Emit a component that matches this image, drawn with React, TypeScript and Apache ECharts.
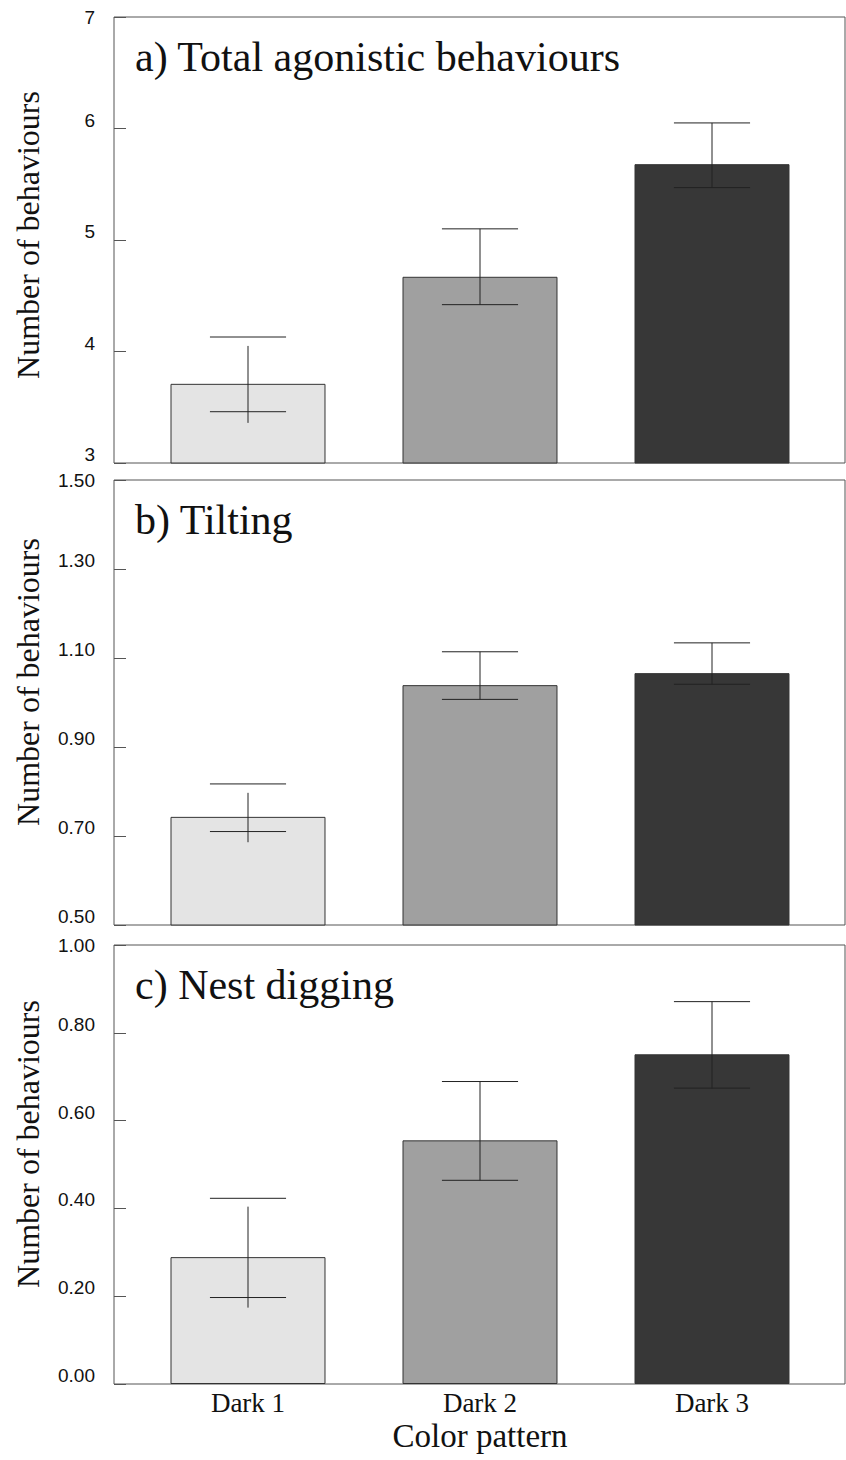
import React, { useEffect, useRef } from "react";
import * as echarts from "echarts";

const categories = ["Dark 1", "Dark 2", "Dark 3"];
const barColors = ["#e4e4e4", "#a0a0a0", "#373737"];

// Panel a) Total agonistic behaviours
const aMeans = [3.71, 4.67, 5.68];
const aCapHigh = [4.13, 5.1, 6.05];
const aCapLow = [3.46, 4.42, 5.47];
const aStemTop = [4.05, 5.1, 6.05];
const aStemBottom = [3.36, 4.42, 5.47];

// Panel b) Tilting
const bMeans = [0.743, 1.039, 1.066];
const bCapHigh = [0.817, 1.114, 1.134];
const bCapLow = [0.71, 1.007, 1.041];
const bStemTop = [0.797, 1.114, 1.134];
const bStemBottom = [0.686, 1.007, 1.041];

// Panel c) Nest digging
const cMeans = [0.289, 0.555, 0.751];
const cCapHigh = [0.423, 0.689, 0.871];
const cCapLow = [0.197, 0.464, 0.674];
const cStemTop = [0.404, 0.689, 0.871];
const cStemBottom = [0.174, 0.464, 0.674];

const panelTitles = ["a) Total agonistic behaviours", "b) Tilting", "c) Nest digging"];
const yAxisTitle = "Number of behaviours";
const xAxisTitle = "Color pattern";
const axisMins = [3, 0.5, 0];
const axisMaxs = [7, 1.5, 1];
const axisIntervals = [1, 0.2, 0.2];
const axisDecimals = [0, 2, 2];

const SERIF = "'Liberation Serif', 'Times New Roman', serif";
const SANS = "'Liberation Sans', Arial, sans-serif";

const panels = [
  { means: aMeans, hi: aCapHigh, lo: aCapLow, st: aStemTop, sb: aStemBottom },
  { means: bMeans, hi: bCapHigh, lo: bCapLow, st: bStemTop, sb: bStemBottom },
  { means: cMeans, hi: cCapHigh, lo: cCapLow, st: cStemTop, sb: cStemBottom },
];

const panelTops = [17, 480, 945];
const panelBottoms = [463, 925, 1384];
const yNameCenters = [235, 682, 1144];

function buildOption() {
  const grid: any[] = [];
  const xAxis: any[] = [];
  const yAxis: any[] = [];
  const series: any[] = [];
  const graphic: any[] = [];

  panels.forEach((p, i) => {
    const top = panelTops[i];
    const height = panelBottoms[i] - panelTops[i];
    const fi = i * 2;
    const di = i * 2 + 1;
    grid.push({
      left: 114,
      top,
      width: 731,
      height,
      show: true,
      borderColor: "#555",
      borderWidth: 1,
      backgroundColor: "transparent",
    });
    grid.push({ left: 132, top, width: 696, height });

    xAxis.push({ gridIndex: fi, type: "value", show: false });
    xAxis.push({
      gridIndex: di,
      type: "category",
      data: categories,
      axisLine: { show: false },
      axisTick: { show: false },
      splitLine: { show: false },
      axisLabel: {
        show: i === 2,
        margin: 5,
        fontFamily: SERIF,
        fontSize: 27,
        color: "#111",
      },
      name: i === 2 ? xAxisTitle : "",
      nameLocation: "middle",
      nameGap: 35,
      nameTextStyle: { fontFamily: SERIF, fontSize: 33, color: "#111" },
    });

    const maxV = axisMaxs[i];
    const dec = axisDecimals[i];
    yAxis.push({ gridIndex: fi, type: "value", show: false });
    yAxis.push({
      gridIndex: di,
      type: "value",
      min: axisMins[i],
      max: maxV,
      interval: axisIntervals[i],
      offset: 18,
      axisLine: { show: false },
      axisTick: { show: true, inside: true, length: 12, lineStyle: { color: "#555", width: 1 } },
      splitLine: { show: false },
      axisLabel: {
        margin: 19,
        formatter: (v: number) => {
          const s = v.toFixed(dec);
          return Math.abs(v - maxV) < 1e-9 ? `{t|${s}}` : `{n|${s}}`;
        },
        rich: {
          t: { fontFamily: SANS, fontSize: 19, color: "#111" },
          n: { fontFamily: SANS, fontSize: 19, color: "#111", padding: [0, 0, 17, 0] },
        },
      },
    });

    series.push({
      type: "bar",
      xAxisIndex: di,
      yAxisIndex: di,
      barWidth: "66.8%",
      data: p.means.map((v, k) => ({ value: v, itemStyle: { color: barColors[k] } })),
      itemStyle: { borderColor: "#333", borderWidth: 1 },
      z: 2,
    });

    series.push({
      type: "custom",
      xAxisIndex: di,
      yAxisIndex: di,
      z: 3,
      encode: { x: 0, y: [1, 2, 3, 4] },
      data: categories.map((_, k) => [k, p.hi[k], p.lo[k], p.st[k], p.sb[k]]),
      renderItem: (params: any, api: any) => {
        const k = api.value(0);
        const pHi = api.coord([k, api.value(1)]);
        const pLo = api.coord([k, api.value(2)]);
        const pSt = api.coord([k, api.value(3)]);
        const pSb = api.coord([k, api.value(4)]);
        const half = api.size([1, 0])[0] * 0.164;
        const st = { stroke: "#222", lineWidth: 1 };
        return {
          type: "group",
          children: [
            { type: "line", shape: { x1: pHi[0] - half, y1: pHi[1], x2: pHi[0] + half, y2: pHi[1] }, style: st },
            { type: "line", shape: { x1: pLo[0] - half, y1: pLo[1], x2: pLo[0] + half, y2: pLo[1] }, style: st },
            { type: "line", shape: { x1: pSt[0], y1: pSt[1], x2: pSb[0], y2: pSb[1] }, style: st },
          ],
        };
      },
    });

    graphic.push({
      type: "text",
      x: 135,
      y: top + 40,
      style: {
        text: panelTitles[i],
        font: `42px ${SERIF}`,
        fill: "#111",
        align: "left",
        verticalAlign: "middle",
      },
    });
    graphic.push({
      type: "text",
      x: 28,
      y: yNameCenters[i],
      rotation: Math.PI / 2,
      style: {
        text: yAxisTitle,
        font: `32px ${SERIF}`,
        fill: "#111",
        align: "center",
        verticalAlign: "middle",
      },
    });
  });

  return {
    animation: false,
    backgroundColor: "#fff",
    grid,
    xAxis,
    yAxis,
    series,
    graphic,
  };
}

export default function App() {
  const ref = useRef<HTMLDivElement>(null);
  useEffect(() => {
    if (!ref.current) return;
    const chart = echarts.init(ref.current, null, { renderer: "svg" });
    chart.setOption(buildOption() as any);
    return () => chart.dispose();
  }, []);
  return (
    <div
      ref={ref}
      style={{ position: "absolute", left: 0, top: 0, width: 846, height: 1460, background: "#fff" }}
    />
  );
}
